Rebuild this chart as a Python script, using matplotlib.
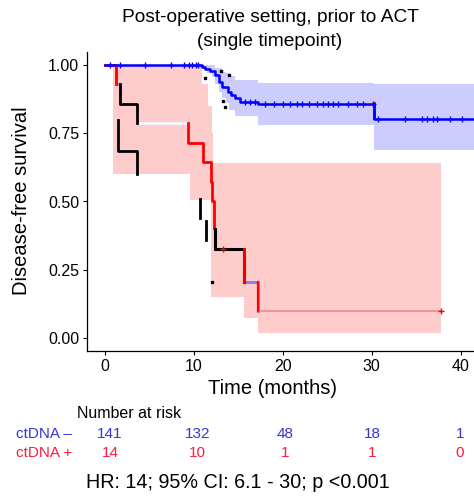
import numpy as np
import matplotlib.pyplot as plt
from matplotlib import transforms

plt.rcParams['font.family'] = ['Liberation Sans', 'DejaVu Sans']

# ctDNA negative curve (step times / survival)
neg_t = [0, 10.9, 11.2, 11.8, 12.4, 12.8, 13.2, 13.8, 14.2, 14.6, 15.2, 17.2, 30.3, 41.5]
neg_s = [1.0, 0.993, 0.985, 0.978, 0.963, 0.938, 0.919, 0.90, 0.89, 0.879, 0.864, 0.857, 0.802, 0.802]
neg_band_t = [0, 10.9, 11.5, 12.0, 12.4, 12.8, 13.2, 13.6, 14.0, 14.6, 17.2, 30.3, 41.5]
neg_band_lo = [1.0, 0.985, 0.97, 0.955, 0.93, 0.90, 0.88, 0.86, 0.835, 0.815, 0.78, 0.69, 0.69]
neg_band_hi = [1.0, 1.0, 1.0, 1.0, 0.99, 0.99, 0.975, 0.97, 0.96, 0.945, 0.935, 0.93, 0.93]
neg_cens = [0.6, 1.7, 4.5, 7.4, 8.9, 9.4, 9.8, 10.2, 10.5, 15.7, 16.3, 16.9, 18.0, 19.0,
            20.0, 20.8, 21.6, 22.2, 23.0, 23.8, 24.5, 25.1, 25.6, 26.2, 27.3, 28.3, 29.0,
            30.1, 30.7, 33.7, 35.7, 36.2, 36.9, 37.3, 38.8, 40.1]

# ctDNA positive curve
pos_t = [0, 1.2, 1.7, 3.6, 9.3, 11.0, 11.9, 12.0, 12.25, 12.35, 15.6, 17.2, 37.8]
pos_s = [1.0, 0.929, 0.857, 0.786, 0.714, 0.643, 0.571, 0.50, 0.40, 0.326, 0.205, 0.10, 0.10]
pos_band_t = [0.9, 9.6, 10.9, 11.6, 11.9, 12.0, 12.2, 15.6, 17.2, 37.8]
pos_band_hi = [1.0, 1.0, 0.93, 0.85, 0.85, 0.75, 0.64, 0.64, 0.64, 0.64]
pos_band_lo = [0.60, 0.505, 0.505, 0.505, 0.15, 0.15, 0.15, 0.073, 0.018, 0.018]
pos_cens = [13.3, 37.8]

# stray black overlay pieces
blk_a_t = [1.5, 1.5, 3.6]
blk_a_s = [0.80, 0.685, 0.60]
blk_b_t = [10.7, 10.7]
blk_b_s = [0.51, 0.44]
blk_c_t = [11.4, 11.4]
blk_c_s = [0.43, 0.36]
blk_mark_t = [11.2, 13.1, 14.0, 13.3, 13.5, 12.0]
blk_mark_s = [0.952, 0.98, 0.963, 0.87, 0.846, 0.205]

# risk table
risk_times = [0, 10, 20, 30, 40]
risk_neg = [141, 132, 48, 18, 1]
risk_pos = [14, 10, 1, 1, 0]

BLUE = '#0000ff'
RED = '#ff0000'


def steps(t, s):
    x = [t[0]]
    y = [s[0]]
    for i in range(1, len(t)):
        x += [t[i], t[i]]
        y += [s[i-1], s[i]]
    return np.array(x), np.array(y)


def piece(t, s, lo, hi):
    x, y = steps(t, s)
    m = (x >= lo) & (x <= hi)
    return x[m], y[m]


def surv_at(t, s, q):
    idx = np.searchsorted(t, q, side='right') - 1
    return np.array(s)[idx]


fig = plt.figure(figsize=(4.74, 4.97), dpi=100)
ax = fig.add_axes([87/474, 1-351/497, 387/474, 299/497])
ax.set_xlim(-2.02, 41.5)
ax.set_ylim(-0.048, 1.048)

# bands
ax.fill_between(neg_band_t, neg_band_lo, neg_band_hi, step='post', color='#ccccff', lw=0, zorder=1)
ax.fill_between(pos_band_t, pos_band_lo, pos_band_hi, step='post', color='#ffcccc', lw=0, zorder=2)

# ctDNA+ curve, coloured piecewise
ax.plot(*piece(pos_t, pos_s, 3.6, 9.3), color='#f6f6ff', lw=2, zorder=3)
ax.plot(*piece(pos_t, pos_s, 1.2, 1.7), color='#9a9af0', lw=2, zorder=3)
ax.plot(*piece(pos_t, pos_s, 1.7, 3.6), color='black', lw=2, zorder=3)
ax.plot(*piece(pos_t, pos_s, 15.6, 17.2), color='#8080ee', lw=2, zorder=3)
ax.plot(*piece(pos_t, pos_s, 17.2, 37.8), color='#f08a9a', lw=1.3, zorder=3)
ax.plot(*piece(pos_t, pos_s, 0, 1.2), color=RED, lw=2, zorder=4)
ax.plot(*piece(pos_t, pos_s, 9.3, 12.35), color=RED, lw=2, zorder=4)
ax.plot(*piece(pos_t, pos_s, 12.35, 15.6), color='black', lw=2.2, zorder=4)
ax.plot([15.6, 15.6], [0.326, 0.205], color=RED, lw=2, zorder=4)
ax.plot([17.2, 17.2], [0.205, 0.10], color=RED, lw=1.6, zorder=4)
ax.plot(pos_cens, surv_at(pos_t, pos_s, pos_cens), ls='none', marker='+', ms=5, mew=1,
        color=RED, zorder=6)

# black overlay pieces
for bt, bs in [(blk_a_t, blk_a_s), (blk_b_t, blk_b_s), (blk_c_t, blk_c_s)]:
    ax.plot(*steps(bt, bs), color='black', lw=2, zorder=4)
ax.plot(blk_mark_t, blk_mark_s, ls='none', marker='s', ms=1.7, color='black', zorder=5)

# ctDNA- curve with a red shadow under its flat part
shadow = transforms.offset_copy(ax.transData, fig=fig, x=0, y=1.2, units='dots')
ax.plot(*piece(neg_t, neg_s, 17.5, 37.8), color=RED, lw=2.2, zorder=5, transform=shadow)
ax.plot(*steps(neg_t, neg_s), color=BLUE, lw=1.8, zorder=6)
ax.plot(neg_cens, surv_at(neg_t, neg_s, neg_cens), ls='none', marker='+', ms=5, mew=1,
        color=BLUE, zorder=7)

ax.spines['top'].set_visible(False)
ax.spines['right'].set_visible(False)
for sp in ['left', 'bottom']:
    ax.spines[sp].set_linewidth(0.9)
ax.set_xticks([0, 10, 20, 30, 40])
ax.set_yticks([0, 0.25, 0.5, 0.75, 1.0])
ax.set_yticklabels(['0.00', '0.25', '0.50', '0.75', '1.00'])
ax.tick_params(length=3, width=0.8, labelsize=11.5, pad=2.5, colors='black')

fig.text(273/474, 1-388/497, 'Time (months)', ha='center', va='center', fontsize=14.5)
fig.text(22/474, 1-201/497, 'Disease-free survival', ha='center', va='center',
         rotation=90, fontsize=14.5)
fig.text(270/474, 1-18/497, 'Post-operative setting, prior to ACT', ha='center', va='center',
         fontsize=13.8)
fig.text(270/474, 1-41/497, '(single timepoint)', ha='center', va='center', fontsize=13.8)

# risk table
tab = fig.add_axes([87/474, 0, 387/474, 1])
tab.set_xlim(-2.63, 41.6)
tab.set_ylim(497, 0)
tab.axis('off')
fig.text(77/474, 1-413/497, 'Number at risk', ha='left', va='center', fontsize=11.5)
fig.text(72/474, 1-434/497, 'ctDNA \u2013', ha='right', va='center', fontsize=11, color='#3535d5')
fig.text(72/474, 1-453/497, 'ctDNA +', ha='right', va='center', fontsize=11, color='#ff1a40')
for t, n in zip(risk_times, risk_neg):
    tab.text(t, 434, str(n), ha='center', va='center', fontsize=11, color='#3535d5')
for t, n in zip(risk_times, risk_pos):
    tab.text(t, 453, str(n), ha='center', va='center', fontsize=11, color='#ff1a40')

fig.text(238/474, 1-482/497, 'HR: 14; 95% CI: 6.1 - 30; p <0.001', ha='center', va='center',
         fontsize=14.2)

fig.savefig('out.png', dpi=100)
